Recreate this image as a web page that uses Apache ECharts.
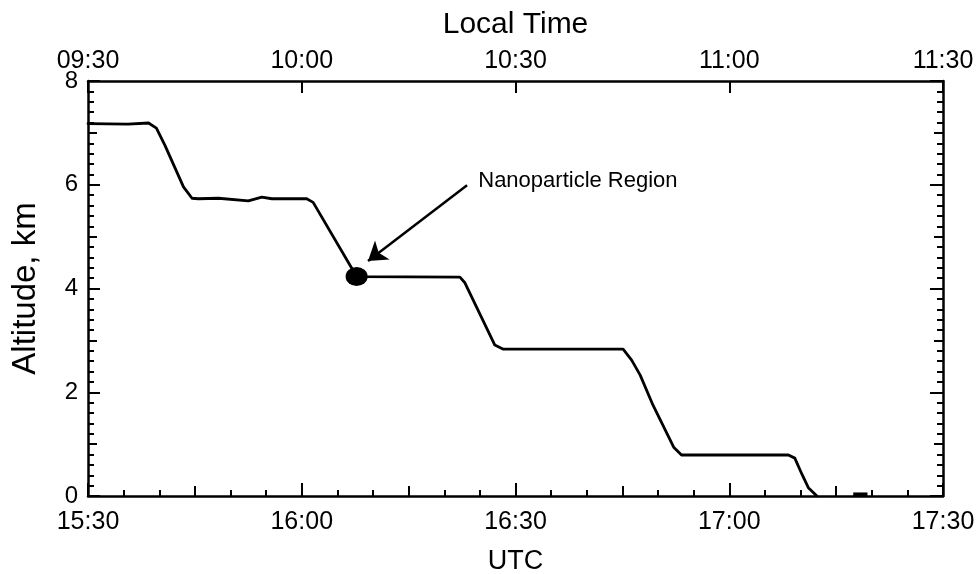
<!DOCTYPE html>
<html><head><meta charset="utf-8">
<script src="https://cdn.jsdelivr.net/npm/echarts@6.0.0/dist/echarts.min.js"></script>
<style>html,body{margin:0;padding:0;background:#fff}#c{width:976px;height:574px}</style>
</head><body><div id="c"></div>
<script>
// minutes after 15:30 UTC
const utcMinutes = [0, 5.6, 8.5, 9.6, 10.8, 13.4, 14.6, 15.5, 18.3, 22.5, 24.4, 25.8, 30.7, 31.6, 37.7, 52.2, 52.9, 57.1, 58.3, 75.1, 76.3, 77.5, 79.3, 82.2, 83.3, 98.3, 99.2, 100.2, 101.1, 102.3];
const altitudeKm = [7.18, 7.17, 7.19, 7.09, 6.76, 5.96, 5.74, 5.73, 5.74, 5.69, 5.76, 5.73, 5.73, 5.66, 4.23, 4.22, 4.11, 2.91, 2.83, 2.83, 2.62, 2.33, 1.75, 0.94, 0.79, 0.79, 0.73, 0.42, 0.16, 0.0];
const groundMinutes = [107.4, 109.4];
const groundKm = [0.03, 0.03];
const utcTickLabels = ['15:30', '16:00', '16:30', '17:00', '17:30'];
const localTickLabels = ['09:30', '10:00', '10:30', '11:00', '11:30'];
const regionPoint = [37.7, 4.23];
const arrowFrom = [53.2, 5.99];
const arrowTo = [39.3, 4.53];
const labelAnchor = [54.7, 6.08];
const labelText = 'Nanoparticle Region';

const FONT = '"Liberation Sans", Arial, Helvetica, sans-serif';
const K = '#000';
const g = {left: 88, right: 33, top: 81, bottom: 78, containLabel: false, outerBoundsMode: 'none'};
const tickStyle = {color: K, width: 2};
const lineAxis = {show: true, onZero: false, lineStyle: {color: K, width: 2.5}};
const noLine = {show: false, onZero: false};

const chart = echarts.init(document.getElementById('c'));
chart.setOption({
  animation: false,
  backgroundColor: '#fff',
  textStyle: {fontFamily: FONT},
  grid: [Object.assign({}, g), Object.assign({}, g), Object.assign({}, g)],
  xAxis: [
    {type: 'value', gridIndex: 0, position: 'bottom', min: 0, max: 120, interval: 30,
     name: 'UTC', nameLocation: 'middle', nameGap: 52,
     nameTextStyle: {fontSize: 27, color: K, fontFamily: FONT},
     axisLine: lineAxis,
     axisTick: {show: true, inside: true, length: 13, lineStyle: tickStyle},
     minorTick: {show: true, splitNumber: 6, length: 6, lineStyle: tickStyle},
     axisLabel: {formatter: v => utcTickLabels[Math.round(v / 30)], fontSize: 25, color: K, margin: 14, fontFamily: FONT},
     splitLine: {show: false}, minorSplitLine: {show: false}},
    {type: 'value', gridIndex: 0, position: 'top', min: 0, max: 120, interval: 30,
     name: 'Local Time', nameLocation: 'middle', nameGap: 41,
     nameTextStyle: {fontSize: 30, color: K, fontFamily: FONT},
     axisLine: lineAxis,
     axisTick: {show: true, inside: true, length: 12, lineStyle: tickStyle},
     axisLabel: {formatter: v => localTickLabels[Math.round(v / 30)], fontSize: 25, color: K, margin: 7, fontFamily: FONT},
     splitLine: {show: false}},
    {type: 'value', gridIndex: 1, position: 'bottom', min: 0, max: 120, interval: 15,
     axisLine: noLine,
     axisTick: {show: true, inside: true, length: 10, lineStyle: tickStyle},
     axisLabel: {show: false}, splitLine: {show: false}},
    {type: 'value', gridIndex: 2, position: 'bottom', min: 0, max: 120, show: false}
  ],
  yAxis: [
    {type: 'value', gridIndex: 0, position: 'left', min: 0, max: 8, interval: 2,
     name: 'Altitude, km', nameLocation: 'middle', nameGap: 46, nameRotate: 90,
     nameTextStyle: {fontSize: 33, color: K, fontFamily: FONT},
     axisLine: lineAxis,
     axisTick: {show: true, inside: true, length: 12, lineStyle: tickStyle},
     minorTick: {show: true, splitNumber: 10, length: 6, lineStyle: tickStyle},
     axisLabel: {fontSize: 24, color: K, margin: 10, fontFamily: FONT},
     splitLine: {show: false}, minorSplitLine: {show: false}},
    {type: 'value', gridIndex: 0, position: 'right', min: 0, max: 8, interval: 2,
     axisLine: lineAxis,
     axisTick: {show: true, inside: true, length: 13, lineStyle: tickStyle},
     minorTick: {show: true, splitNumber: 10, length: 6, lineStyle: tickStyle},
     axisLabel: {show: false}, splitLine: {show: false}, minorSplitLine: {show: false}},
    {type: 'value', gridIndex: 1, position: 'left', min: 0, max: 8, interval: 1,
     axisLine: noLine,
     axisTick: {show: true, inside: true, length: 9, lineStyle: tickStyle},
     axisLabel: {show: false}, splitLine: {show: false}},
    {type: 'value', gridIndex: 2, position: 'right', min: 0, max: 8, interval: 1,
     axisLine: noLine,
     axisTick: {show: true, inside: true, length: 9, lineStyle: tickStyle},
     axisLabel: {show: false}, splitLine: {show: false}}
  ],
  series: [
    {type: 'line', xAxisIndex: 0, yAxisIndex: 0,
     data: utcMinutes.map((m, i) => [m, altitudeKm[i]]),
     showSymbol: false, symbol: 'none', silent: true,
     lineStyle: {color: K, width: 2.8, join: 'round', cap: 'round'},
     markPoint: {silent: true, data: [
       {coord: regionPoint, symbol: 'circle', symbolSize: [22, 19], itemStyle: {color: K}, label: {show: false}},
       {coord: labelAnchor, symbol: 'circle', symbolSize: 1, itemStyle: {color: 'rgba(0,0,0,0)'},
        label: {show: true, position: 'right', distance: 0, formatter: labelText, fontSize: 22, color: K, fontFamily: FONT}}
     ]},
     markLine: {silent: true, symbol: ['none', 'arrow'], symbolSize: 18,
       lineStyle: {color: K, width: 2.5, type: 'solid'}, label: {show: false},
       data: [[{coord: arrowFrom}, {coord: arrowTo}]]}
    },
    {type: 'line', xAxisIndex: 0, yAxisIndex: 0,
     data: groundMinutes.map((m, i) => [m, groundKm[i]]),
     showSymbol: false, symbol: 'none', silent: true,
     lineStyle: {color: K, width: 4}}
  ]
});
</script>
</body></html>
